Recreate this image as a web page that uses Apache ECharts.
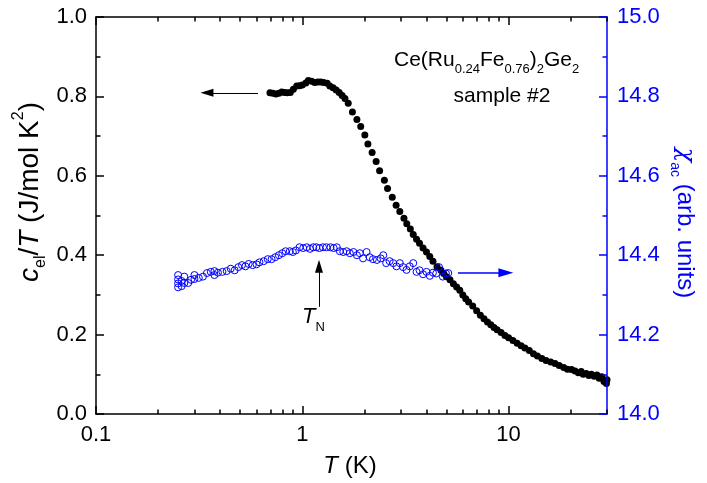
<!DOCTYPE html>
<html><head><meta charset="utf-8">
<script src="https://cdn.jsdelivr.net/npm/echarts@6/dist/echarts.min.js"></script>
<style>html,body{margin:0;padding:0;background:#fff}#wrap{position:relative;width:707px;height:483px}
.layer{position:absolute;left:0;top:0;width:707px;height:483px}#ax,#t{pointer-events:none}</style>
</head><body><div id="wrap"><div class="layer" id="c"></div><div class="layer" id="ax"></div><div class="layer" id="t"></div></div>
<script>
const FONT = '"Liberation Sans", Arial, sans-serif';
const BLUE = '#0000ff';

// c_el/T (J/mol K^2) vs T (K) — black filled dots
const celT = [0.697,0.72,0.745,0.77,0.795,0.82,0.845,0.875,0.905,0.94,0.97,1.0,1.04,1.07,1.11,1.15,1.19,1.23,1.27,1.32,1.36,1.41,1.46,1.51,1.56,1.61,1.67,
  1.75,1.84,1.92,2.01,2.08,2.18,2.28,2.37,2.50,2.59,2.73,2.85,2.97,3.11,3.21,3.34,
  3.45,3.58,3.7,3.85,4.0,4.15,4.3,4.5,4.7,4.85,5.0,5.2,5.4,5.6,5.8,6.0,6.2,6.4,6.7,7.0,7.3,7.6,7.9,8.2,8.5,8.8,9.2,9.6,10.0,10.5,11.0,11.5,
  12.0,12.6,13.2,13.8,14.5,15.2,16.0,16.8,17.6,18.5,19.3,20.2,21.0,21.8,22.5,23.0,23.8,24.5,25.2,26.0,26.8,27.5,28.3,29.0,29.8,30.0];
const celVal = [0.809,0.808,0.806,0.808,0.811,0.810,0.809,0.810,0.818,0.826,0.827,0.829,0.834,0.840,0.838,0.835,0.836,0.836,0.835,0.833,0.826,0.822,0.816,0.810,0.802,0.795,0.783,
  0.761,0.742,0.724,0.703,0.680,0.659,0.636,0.613,0.589,0.568,0.546,0.526,0.510,0.493,0.479,0.466,
  0.452,0.440,0.430,0.418,0.408,0.397,0.385,0.371,0.362,0.354,0.346,0.338,0.328,0.320,0.312,0.300,0.290,0.282,0.272,0.260,0.249,0.240,0.232,0.225,0.218,0.212,0.205,0.198,0.192,0.185,0.178,0.172,
  0.166,0.160,0.152,0.146,0.140,0.135,0.131,0.127,0.122,0.117,0.113,0.112,0.108,0.104,0.107,0.100,0.102,0.097,0.100,0.095,0.098,0.090,0.094,0.082,0.077,0.086];

// chi_ac (arb. units) vs T (K) — blue open circles
const chiT = [0.25,0.25,0.25,0.25,0.26,0.26,0.268,0.268,0.28,0.289,0.30,0.30,0.315,0.33,0.345,0.36,0.375,0.375,0.39,0.41,0.43,0.45,0.47,0.49,0.51,0.53,0.55,0.575,0.60,0.62,0.65,0.68,0.71,0.74,0.77,0.80,0.83,0.87,0.90,0.93,0.97,1.01,1.05,1.09,1.13,1.17,1.21,1.26,1.31,1.37,1.42,1.47,1.52,1.58,1.64,1.70,1.77,1.84,1.90,1.97,2.05,2.12,2.2,2.3,2.4,2.47,2.55,2.65,2.76,2.86,2.97,3.08,3.2,3.32,3.45,3.58,3.7,3.85,4.0,4.15,4.3,4.46,4.6,4.8,4.97,5.1];
const chiVal = [14.350,14.339,14.329,14.319,14.335,14.322,14.346,14.330,14.330,14.338,14.350,14.340,14.343,14.346,14.355,14.358,14.360,14.350,14.356,14.358,14.360,14.366,14.362,14.370,14.375,14.372,14.378,14.375,14.377,14.382,14.385,14.390,14.390,14.395,14.400,14.405,14.410,14.410,14.408,14.412,14.420,14.418,14.420,14.416,14.420,14.420,14.418,14.420,14.420,14.420,14.418,14.420,14.410,14.408,14.410,14.405,14.408,14.400,14.405,14.392,14.408,14.395,14.390,14.388,14.392,14.400,14.380,14.385,14.380,14.372,14.380,14.370,14.363,14.372,14.380,14.358,14.362,14.352,14.358,14.348,14.356,14.354,14.370,14.346,14.354,14.355];

const xMajorTicks = [0.1, 1, 10];
const xMinorTicks = [0.2,0.3,0.4,0.5,0.6,0.7,0.8,0.9,2,3,4,5,6,7,8,9,20,30];

// annotation arrows (data coordinates)
const leftArrow = [[0.61, 0.809], [0.345, 0.809]];
const tnArrow = [[1.205, 0.270], [1.205, 0.372]];
const rightArrow = [[5.68, 14.356], [9.7, 14.356]];

const black = celT.map((t, i) => [t, celVal[i]]);
const blue = chiT.map((t, i) => [t, chiVal[i]]);
const GRID = {left: 96, right: 100, top: 17, bottom: 69};

function arrowLine(pairs, color, width, size) {
  return {silent: true, animation: false, symbol: ['none', 'triangle'], symbolSize: size,
    label: {show: false}, lineStyle: {color: color, width: width, type: 'solid'},
    data: pairs.map(p => [{coord: p[0]}, {coord: p[1]}])};
}

// layer 1: data marks and arrows (axes present but not drawn)
const hiddenX = {type: 'log', logBase: 10, min: 0.1, max: 30, show: false};
const chart = echarts.init(document.getElementById('c'), null, {renderer: 'canvas'});
chart.setOption({
  animation: false,
  grid: GRID,
  xAxis: [hiddenX],
  yAxis: [
    {type: 'value', position: 'left', min: 0, max: 1, interval: 0.2, show: false},
    {type: 'value', position: 'right', min: 14, max: 15, interval: 0.2, show: false}
  ],
  series: [
    {type: 'scatter', xAxisIndex: 0, yAxisIndex: 0, data: black,
      symbol: 'circle', symbolSize: 7, itemStyle: {color: '#000', opacity: 1}, z: 2,
      markLine: arrowLine([leftArrow, tnArrow], '#000', 1, [8, 13])},
    {type: 'scatter', xAxisIndex: 0, yAxisIndex: 1, data: blue,
      symbol: 'circle', symbolSize: 7, itemStyle: {color: 'rgba(0,0,0,0)', borderColor: BLUE, borderWidth: 1, opacity: 1}, z: 3,
      markLine: arrowLine([rightArrow], BLUE, 1.5, [9, 15])}
  ]
});

// layer 2: the axes with lines, ticks and labels
function xAx(pos, ticks, len, showLine, showLabel) {
  return {
    type: 'log', logBase: 10, min: 0.1, max: 30, position: pos, gridIndex: 0,
    axisLine: {show: showLine, onZero: false, lineStyle: {color: '#000', width: 1.5}},
    axisTick: {show: true, inside: true, length: len, customValues: ticks, lineStyle: {color: '#000', width: 1.5}},
    axisLabel: {show: showLabel, customValues: xMajorTicks, margin: 10, color: '#000', fontSize: 22, fontFamily: FONT,
      formatter: v => (v < 1 ? Number(v).toFixed(1) : String(Math.round(v)))},
    splitLine: {show: false}, minorTick: {show: false}, minorSplitLine: {show: false}
  };
}
const axes = echarts.init(document.getElementById('ax'), null, {renderer: 'canvas'});
axes.setOption({
  animation: false,
  backgroundColor: 'rgba(0,0,0,0)',
  grid: GRID,
  xAxis: [
    xAx('bottom', xMajorTicks, 8, true, true),
    xAx('bottom', xMinorTicks, 4.5, false, false),
    xAx('top', xMajorTicks, 8, true, false),
    xAx('top', xMinorTicks, 4.5, false, false)
  ],
  yAxis: [
    {type: 'value', position: 'left', min: 0, max: 1, interval: 0.2,
      axisLine: {show: true, onZero: false, lineStyle: {color: '#000', width: 1.5}},
      axisTick: {show: true, inside: true, length: 8, lineStyle: {color: '#000', width: 1.5}},
      minorTick: {show: true, splitNumber: 2, length: 4.5, lineStyle: {color: '#000', width: 1.5}},
      axisLabel: {margin: 9, color: '#000', fontSize: 22, fontFamily: FONT, formatter: v => v.toFixed(1)},
      splitLine: {show: false}},
    {type: 'value', position: 'right', min: 14, max: 15, interval: 0.2,
      axisLine: {show: true, onZero: false, lineStyle: {color: BLUE, width: 1.5}},
      axisTick: {show: true, inside: true, length: 8, lineStyle: {color: BLUE, width: 1.5}},
      minorTick: {show: true, splitNumber: 2, length: 4.5, lineStyle: {color: BLUE, width: 1.5}},
      axisLabel: {margin: 10, color: BLUE, fontSize: 22, fontFamily: FONT, formatter: v => v.toFixed(1)},
      splitLine: {show: false}}
  ]
});

// layer 3: text annotations
const overlay = echarts.init(document.getElementById('t'), null, {renderer: 'canvas'});
overlay.setOption({
  animation: false,
  backgroundColor: 'rgba(0,0,0,0)',
  graphic: [
    {type: 'text', x: 350, y: 466, style: {
      text: '{i|T} (K)', align: 'center', verticalAlign: 'middle', fill: '#000', font: '24px ' + FONT,
      rich: {i: {fontStyle: 'italic', fontSize: 24, fontFamily: FONT}}}},
    {type: 'text', x: 30, y: 192, rotation: Math.PI / 2, style: {
      text: '{i|c}{s|el}{m|/}{i|T}{m| (J/mol K}{p|2}{m|)}', align: 'center', verticalAlign: 'middle', fill: '#000',
      rich: {
        i: {fontStyle: 'italic', fontSize: 28, fontFamily: FONT, lineHeight: 38, verticalAlign: 'middle'},
        m: {fontSize: 28, fontFamily: FONT, lineHeight: 38, verticalAlign: 'middle'},
        s: {fontSize: 16, fontFamily: FONT, lineHeight: 12, verticalAlign: 'bottom'},
        p: {fontSize: 16, fontFamily: FONT, lineHeight: 14, verticalAlign: 'top'}
      }}},
    {type: 'text', x: 685, y: 223, rotation: -Math.PI / 2, style: {
      text: '{i|χ}{s|ac}{m| (arb. units)}', align: 'center', verticalAlign: 'middle', fill: BLUE,
      rich: {
        i: {fontStyle: 'italic', fontSize: 24, fontFamily: '"DejaVu Serif", serif', lineHeight: 34, verticalAlign: 'middle', color: BLUE},
        m: {fontSize: 24, fontFamily: FONT, lineHeight: 34, verticalAlign: 'middle', color: BLUE},
        s: {fontSize: 14, fontFamily: FONT, lineHeight: 12, verticalAlign: 'bottom', color: BLUE}
      }}},
    {type: 'text', x: 394, y: 60, style: {
      text: '{m|Ce(Ru}{s|0.24}{m|Fe}{s|0.76}{m|)}{s|2}{m|Ge}{s|2}', align: 'left', verticalAlign: 'middle', fill: '#000',
      rich: {
        m: {fontSize: 21, fontFamily: FONT, lineHeight: 32, verticalAlign: 'middle'},
        s: {fontSize: 13, fontFamily: FONT, lineHeight: 10, verticalAlign: 'bottom'}
      }}},
    {type: 'text', x: 502, y: 96, style: {
      text: 'sample #2', align: 'center', verticalAlign: 'middle', fill: '#000', font: '21px ' + FONT}},
    {type: 'text', x: 302, y: 317, style: {
      text: '{i|T}{s|N}', align: 'left', verticalAlign: 'middle', fill: '#000',
      rich: {
        i: {fontStyle: 'italic', fontSize: 22, fontFamily: FONT, lineHeight: 34, verticalAlign: 'middle'},
        s: {fontSize: 13, fontFamily: FONT, lineHeight: 12, verticalAlign: 'bottom'}
      }}}
  ]
});
</script>
</body></html>
